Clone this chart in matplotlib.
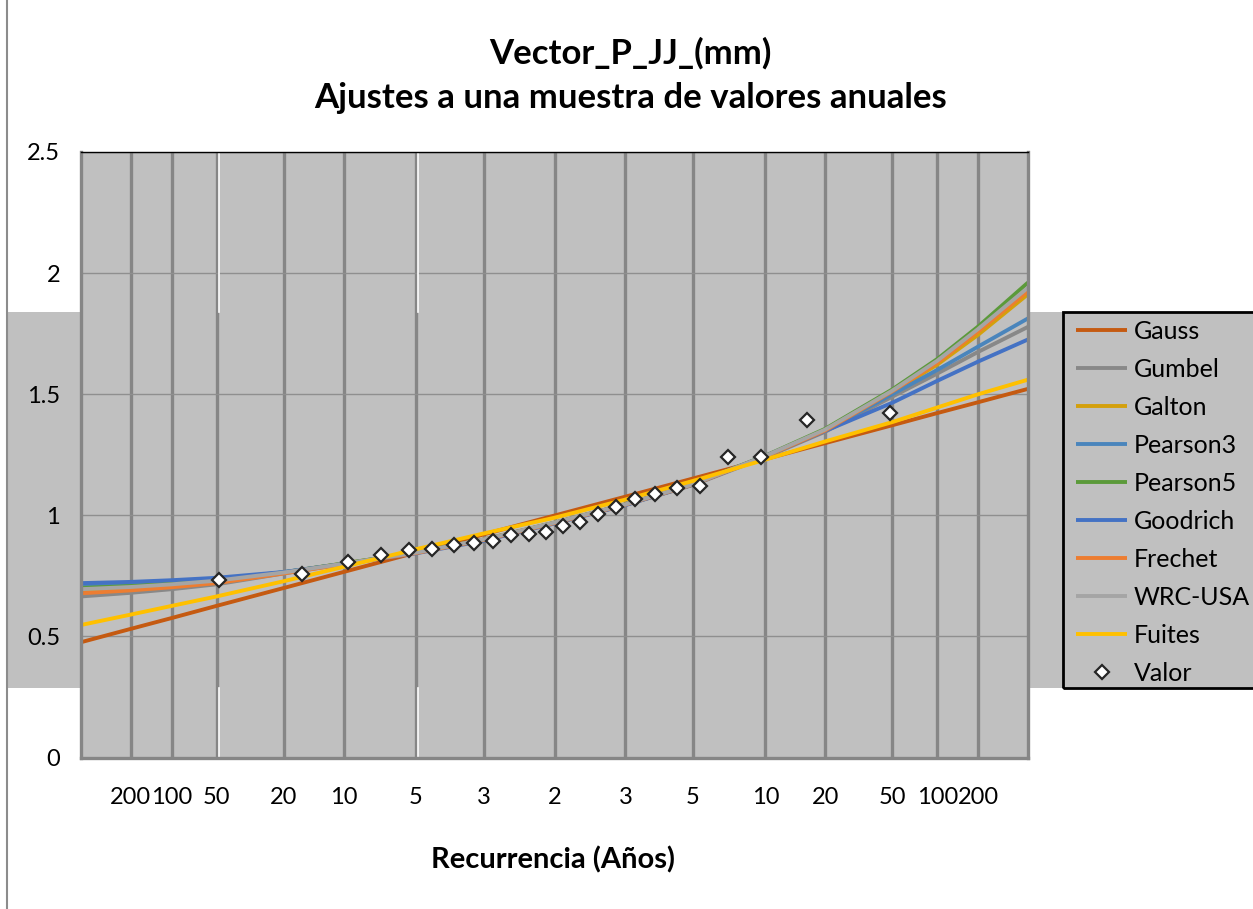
import matplotlib.pyplot as plt
from matplotlib.lines import Line2D
from matplotlib.patches import Rectangle

plt.rcParams['font.family'] = ['Lato', 'DejaVu Sans']

# eje x: variable normal reducida, marcada con el periodo de retorno
tick_z = [-2.576, -2.326, -2.054, -1.645, -1.282, -0.842, -0.431, 0.0,
          0.431, 0.842, 1.282, 1.645, 2.054, 2.326, 2.576]
tick_T = ['200', '100', '50', '20', '10', '5', '3', '2',
          '3', '5', '10', '20', '50', '100', '200']
z_lim = 2.878
y_ticks = [0, 0.5, 1, 1.5, 2, 2.5]
y_labels = ['0', '0.5', '1', '1.5', '2', '2.5']

z_fit = [-2.878, -2.576, -2.326, -2.054, -1.645, -1.282, -0.842, -0.431, 0.0,
         0.431, 0.842, 1.282, 1.645, 2.054, 2.326, 2.576, 2.878]
gauss = [0.476, 0.531, 0.576, 0.626, 0.700, 0.766, 0.846, 0.921, 0.999,
         1.077, 1.152, 1.232, 1.298, 1.372, 1.422, 1.467, 1.522]
gumbel = [0.665, 0.680, 0.695, 0.715, 0.760, 0.799, 0.846, 0.900, 0.968,
          1.043, 1.125, 1.240, 1.345, 1.490, 1.585, 1.675, 1.778]
galton = [0.690, 0.700, 0.712, 0.728, 0.764, 0.801, 0.846, 0.900, 0.970,
          1.045, 1.128, 1.244, 1.352, 1.508, 1.622, 1.746, 1.913]
pearson3 = [0.712, 0.718, 0.725, 0.736, 0.765, 0.800, 0.845, 0.898, 0.969,
            1.044, 1.127, 1.243, 1.350, 1.500, 1.600, 1.697, 1.813]
pearson5 = [0.700, 0.708, 0.718, 0.732, 0.765, 0.801, 0.846, 0.899, 0.969,
            1.045, 1.129, 1.246, 1.357, 1.520, 1.645, 1.780, 1.961]
goodrich = [0.720, 0.725, 0.732, 0.742, 0.766, 0.799, 0.843, 0.895, 0.966,
            1.042, 1.127, 1.245, 1.348, 1.465, 1.555, 1.635, 1.726]
frechet = [0.678, 0.690, 0.703, 0.720, 0.760, 0.798, 0.844, 0.898, 0.968,
           1.044, 1.127, 1.243, 1.350, 1.512, 1.630, 1.760, 1.926]
wrc = [0.695, 0.704, 0.715, 0.730, 0.764, 0.800, 0.846, 0.900, 0.970,
       1.045, 1.128, 1.245, 1.354, 1.515, 1.638, 1.770, 1.940]
fuites = [0.547, 0.590, 0.626, 0.665, 0.728, 0.787, 0.860, 0.925, 0.990,
          1.065, 1.142, 1.230, 1.305, 1.385, 1.445, 1.500, 1.560]

# muestra (posiciones de Hazen)
z_obs = [-2.037, -1.534, -1.258, -1.055, -0.887, -0.742, -0.610, -0.489,
         -0.374, -0.264, -0.157, -0.052, 0.052, 0.157, 0.264, 0.374,
         0.489, 0.610, 0.742, 0.887, 1.055, 1.258, 1.534, 2.037]
valor = [0.733, 0.757, 0.807, 0.837, 0.856, 0.859, 0.877, 0.884, 0.892,
         0.920, 0.924, 0.932, 0.955, 0.971, 1.004, 1.033, 1.067, 1.090,
         1.113, 1.121, 1.241, 1.241, 1.393, 1.423]

series = [('Gauss', gauss, '#C55A11'),
          ('Gumbel', gumbel, '#888888'),
          ('Galton', galton, '#D4A00C'),
          ('Pearson3', pearson3, '#4A85BC'),
          ('Pearson5', pearson5, '#5B9A3A'),
          ('Goodrich', goodrich, '#4472C4'),
          ('Frechet', frechet, '#ED7D31'),
          ('WRC-USA', wrc, '#A5A5A5'),
          ('Fuites', fuites, '#FFC000')]

W, H = 1253, 909
fig = plt.figure(figsize=(W / 100, H / 100), dpi=100)

# banda gris detras de la leyenda y borde izquierdo
fig.add_artist(Rectangle((8 / W, 1 - 688 / H), 1, 376 / H, transform=fig.transFigure,
                         fc='#C0C0C0', ec='none', zorder=-1))
fig.add_artist(Line2D([7 / W, 7 / W], [0, 1], transform=fig.transFigure,
                      color='#8C8C8C', lw=1.5))

ax = fig.add_axes([81 / W, 1 - 757.5 / H, 947 / W, 605.5 / H])
ax.set_facecolor('#C0C0C0')

handles = []
for name, vals, col in series:
    l, = ax.plot(z_fit, vals, color=col, lw=2.8, label=name, solid_capstyle='butt')
    handles.append(l)
pts, = ax.plot(z_obs, valor, ls='none', marker='D', ms=7.5, mfc='white',
               mec='#262626', mew=1.6, label='Valor', zorder=5)
handles.append(pts)

ax.set_xlim(-z_lim, z_lim)
ax.set_ylim(0, 2.5)
ax.set_xticks(tick_z, tick_T)
ax.set_yticks(y_ticks, y_labels)
ax.tick_params(length=0, labelsize=17, colors='black')
ax.tick_params(axis='x', pad=21)
ax.tick_params(axis='y', pad=15)

ax.set_axisbelow(True)
ax.xaxis.grid(True, color='#868686', lw=2.4)
ax.yaxis.grid(True, color='#8F8F8F', lw=1.0)
for s in ['left', 'bottom', 'right']:
    ax.spines[s].set_color('#868686')
    ax.spines[s].set_linewidth(2.4)
ax.spines['top'].set_color('black')
ax.spines['top'].set_linewidth(1.0)

# lineas blancas junto a algunas divisiones, fuera de la banda
for zz in [tick_z[2], tick_z[5]]:
    ax.axvline(zz + 0.013, ymin=0.7356, ymax=1, color='white', lw=1.2, zorder=1)
    ax.axvline(zz + 0.013, ymin=0, ymax=0.115, color='white', lw=1.2, zorder=1)

fig.text(0.503, 1 - 53 / H, 'Vector_P_JJ_(mm)', ha='center', va='center',
         fontsize=25, weight='bold')
fig.text(0.503, 1 - 98 / H, 'Ajustes a una muestra de valores anuales',
         ha='center', va='center', fontsize=25, weight='bold')
fig.text(553 / W, 1 - 860 / H, 'Recurrencia (Años)', ha='center', va='center',
         fontsize=21, weight='bold')

fig.add_artist(Rectangle((1063 / W, 1 - 688 / H), 200 / W, 376 / H,
                         transform=fig.transFigure, fill=False, ec='black',
                         lw=2, zorder=5))
fig.legend(handles, [h.get_label() for h in handles], loc='upper left',
           bbox_to_anchor=(1076 / W, 1 - 320 / H), frameon=False, fontsize=18,
           handlelength=2.05, handletextpad=0.25, labelspacing=0.6,
           borderpad=0, borderaxespad=0)

fig.savefig('out.png', dpi=100)
